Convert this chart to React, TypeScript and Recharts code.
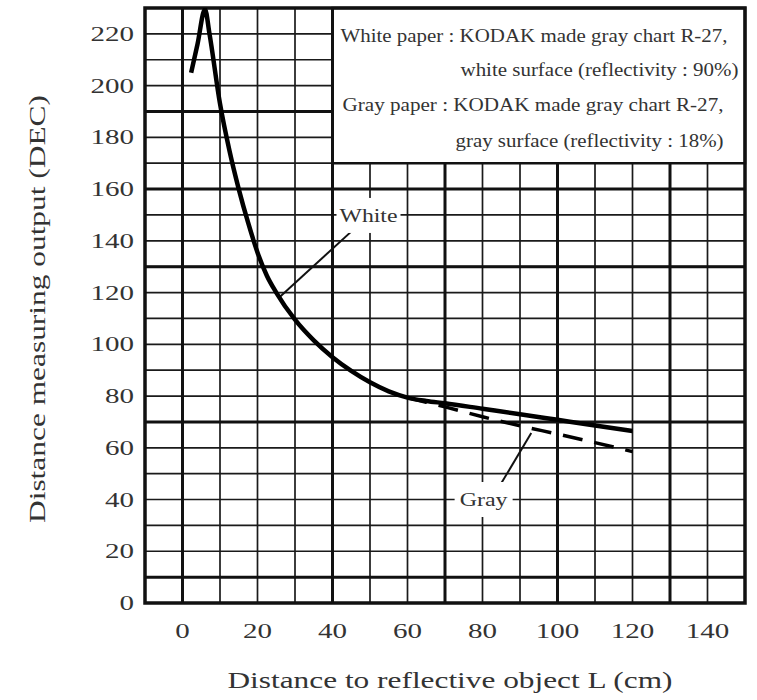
import React from "react";
import { LineChart, Line, XAxis, YAxis, CartesianGrid, ReferenceArea, ReferenceLine, ReferenceDot, Label } from "recharts";

// grid / tick values
const xGridTicks = [-10, 0, 10, 20, 30, 40, 50, 60, 70, 80, 90, 100, 110, 120, 130, 140, 150];
const xTickLabels = [0, 20, 40, 60, 80, 100, 120, 140];
const yGridTicks = [0, 10, 20, 30, 40, 50, 60, 70, 80, 90, 100, 110, 120, 130, 140, 150, 160, 170, 180, 190, 200, 210, 220, 230];
const yTickLabels = [0, 20, 40, 60, 80, 100, 120, 140, 160, 180, 200, 220];
const boldRows = [10, 70, 130, 160, 190];
const boldCols = [0, 40, 70, 100, 130];

// white paper curve
const whiteDistance = [2.3, 4, 6, 7.2, 10, 12.5, 15, 17.5, 20, 22.5, 25, 30, 35, 40, 45, 50, 55, 60, 65, 70, 80, 90, 100, 110, 120];
const whiteOutput = [205, 216, 229.5, 220, 193, 175, 160, 147, 135.5, 126.5, 120, 109.5, 101.5, 95, 89.7, 85.3, 81.8, 79.4, 78.1, 77.2, 75.1, 73, 70.8, 68.6, 66.5];

// gray paper curve
const grayDistance = [60, 65, 70, 80, 90, 100, 110, 120];
const grayOutput = [79.4, 77.6, 75.8, 72, 68.5, 65.3, 62, 58.5];

const legendLines = [
  "White paper : KODAK made gray chart R-27,",
  "white surface (reflectivity : 90%)",
  "Gray paper : KODAK made gray chart R-27,",
  "gray surface (reflectivity : 18%)",
];

const FONT = '"Liberation Serif", "Times New Roman", serif';
const TEXT = "#333";

// box in the upper right that holds the legend text
const box = { x1: 40, x2: 150, y1: 170, y2: 230 };

function toPoints(xs: number[], ys: number[]) {
  var out: { x: number; y: number }[] = [];
  for (var i = 0; i < xs.length; i++) {
    out.push({ x: xs[i], y: ys[i] });
  }
  return out;
}

const whiteData = toPoints(whiteDistance, whiteOutput);
const grayData = toPoints(grayDistance, grayOutput);

function YTick(props: any) {
  var v = props.payload.value;
  if (yTickLabels.indexOf(v) < 0) return <g />;
  var s = String(v);
  return (
    <text x={props.x} y={props.y + 7} textAnchor="end" fontSize={20} fontFamily={FONT} fill={TEXT}
      textLength={s.length * 14.5} lengthAdjust="spacingAndGlyphs">
      {s}
    </text>
  );
}

function XTick(props: any) {
  var v = props.payload.value;
  if (xTickLabels.indexOf(v) < 0) return <g />;
  var s = String(v);
  return (
    <text x={props.x} y={props.y + 35} textAnchor="middle" fontSize={20} fontFamily={FONT} fill={TEXT}
      textLength={s.length * 14.5} lengthAdjust="spacingAndGlyphs">
      {s}
    </text>
  );
}

function XTitle(props: any) {
  var vb = props.viewBox;
  return (
    <text x={vb.x + vb.width / 2 + 5} y={vb.y + 85} textAnchor="middle" fontSize={24} fontFamily={FONT} fill={TEXT}
      textLength={445} lengthAdjust="spacingAndGlyphs">
      Distance to reflective object L (cm)
    </text>
  );
}

function YTitle(props: any) {
  var vb = props.viewBox;
  var cx = 45;
  var cy = vb.y + 301;
  return (
    <text x={cx} y={cy} transform={"rotate(-90 " + cx + " " + cy + ")"} textAnchor="middle" fontSize={24}
      fontFamily={FONT} fill={TEXT} textLength={428} lengthAdjust="spacingAndGlyphs">
      Distance measuring output (DEC)
    </text>
  );
}

function LegendText(props: any) {
  var vb = props.viewBox;
  var x = vb.x;
  var y = vb.y;
  // offsets in px from the box corner
  var rows = [
    { dx: 8, dy: 34, w: 387 },
    { dx: 128, dy: 68, w: 278 },
    { dx: 10, dy: 103, w: 381 },
    { dx: 123, dy: 139, w: 268 },
  ];
  return (
    <g>
      {legendLines.map(function (line, i) {
        return (
          <text key={i} x={x + rows[i].dx} y={y + rows[i].dy} fontSize={18} fontFamily={FONT} fill={TEXT}
            textLength={rows[i].w} lengthAdjust="spacingAndGlyphs">
            {line}
          </text>
        );
      })}
    </g>
  );
}

function tagShape(text: string, halfW: number, width: number) {
  return function (p: any) {
    return (
      <g>
        <rect x={p.cx - halfW} y={p.cy - 17} width={halfW * 2} height={35} fill="#fff" />
        <text x={p.cx} y={p.cy + 7} textAnchor="middle" fontSize={19} fontFamily={FONT} fill={TEXT}
          textLength={width} lengthAdjust="spacingAndGlyphs">
          {text}
        </text>
      </g>
    );
  };
}

export default function App() {
  var rowLines = boldRows.map(function (v) {
    var end = v > box.y1 ? box.x1 : 150;
    return (
      <ReferenceLine key={"r" + v} segment={[{ x: -10, y: v }, { x: end, y: v }]} stroke="#111" strokeWidth={3} />
    );
  });
  var colLines = boldCols.map(function (v) {
    var end = v > box.x1 ? box.y1 : 230;
    return (
      <ReferenceLine key={"c" + v} segment={[{ x: v, y: 0 }, { x: v, y: end }]} stroke="#111" strokeWidth={3} />
    );
  });

  return (
    <div style={{ position: "absolute", left: 0, top: 0, width: 757, height: 700, background: "#fff" }}>
      <LineChart width={757} height={700} margin={{ top: 8, right: 12, bottom: 37, left: 45 }}>
        <CartesianGrid stroke="#1a1a1a" strokeWidth={1.7} horizontal={true} vertical={true} />
        <XAxis type="number" dataKey="x" domain={[-10, 150]} ticks={xGridTicks} interval={0} allowDataOverflow
          height={60} tickSize={0} tickMargin={0} axisLine={false} tickLine={false} tick={<XTick />}>
          <Label content={<XTitle />} />
        </XAxis>
        <YAxis type="number" domain={[0, 230]} ticks={yGridTicks} interval={0} allowDataOverflow
          width={100} tickSize={0} tickMargin={11} axisLine={false} tickLine={false} tick={<YTick />}>
          <Label content={<YTitle />} />
        </YAxis>

        {rowLines}
        {colLines}

        <ReferenceArea x1={box.x1} x2={box.x2} y1={box.y1} y2={box.y2} fill="#fff" fillOpacity={1}
          stroke="#111" strokeWidth={2.5} label={<LegendText />} />
        <ReferenceArea x1={-10} x2={150} y1={0} y2={230} fill="none" stroke="#111" strokeWidth={3.5} />

        <ReferenceLine segment={[{ x: 26, y: 118.4 }, { x: 46.3, y: 145.3 }]} stroke="#111" strokeWidth={2} />
        <ReferenceLine segment={[{ x: 85, y: 46.3 }, { x: 93, y: 65.7 }]} stroke="#111" strokeWidth={2} />
        <ReferenceDot x={49.6} y={150} r={0} shape={tagShape("White", 32, 58)} />
        <ReferenceDot x={80.3} y={40.2} r={0} shape={tagShape("Gray", 29, 48)} />

        <Line data={whiteData} dataKey="y" type="monotone" stroke="#000" strokeWidth={4.5} dot={false}
          isAnimationActive={false} />
        <Line data={grayData} dataKey="y" type="monotone" stroke="#000" strokeWidth={3.5} strokeDasharray="20 12"
          dot={false} isAnimationActive={false} />
      </LineChart>
    </div>
  );
}
